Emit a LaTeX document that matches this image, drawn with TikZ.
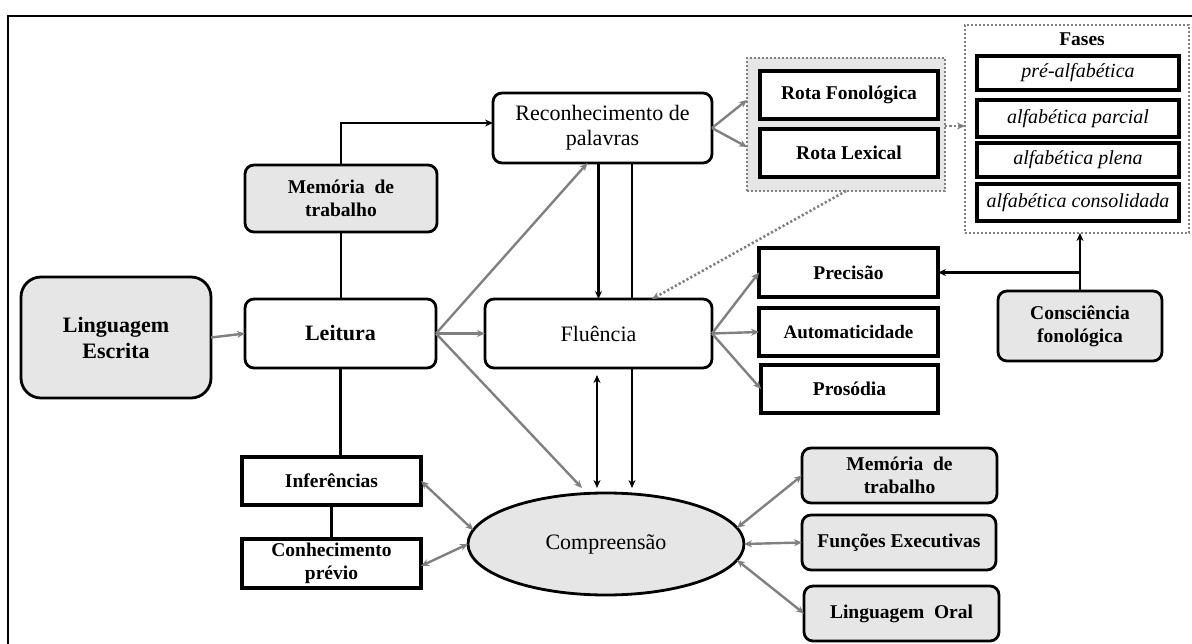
\documentclass[tikz,border=0pt]{standalone}
\usepackage{fontspec}
\setmainfont{Liberation Serif}
\usetikzlibrary{arrows.meta,shapes.geometric,calc}
\definecolor{boxgray}{HTML}{E6E6E6}
\definecolor{linegray}{HTML}{808080}
\begin{document}
\begin{tikzpicture}[x=1pt,y=-1pt,
  every node/.style={inner sep=0pt, outer sep=0pt, align=center},
  rbox/.style={draw, rounded corners=9pt, line width=2.8pt, fill=white},
  gbox/.style={rbox, fill=boxgray},
  sbox/.style={draw, line width=3.2pt, fill=white},
  bt/.style={font=\fontsize{19.5}{23}\selectfont\bfseries},
  bigbt/.style={font=\fontsize{22}{26}\selectfont\bfseries},
  rt/.style={font=\fontsize{22}{25}\selectfont},
  itx/.style={font=\fontsize{20}{24}\selectfont\itshape},
  tip/.tip={Stealth[length=8pt,width=7pt]},
  garr/.style={draw=linegray, line width=2.4pt, -tip},
  gdarr/.style={draw=linegray, line width=2.4pt, tip-tip},
  barr/.style={draw=black, line width=2.4pt, -tip},
  bdarr/.style={draw=black, line width=2.4pt, tip-tip},
  bline/.style={draw=black, line width=2.4pt},
  dotarr/.style={draw=linegray, line width=2.6pt, dash pattern=on 2.2pt off 2.2pt, -tip},
  grp/.style={draw=linegray, line width=2.8pt, dash pattern=on 2.2pt off 1.8pt},
]
\path[use as bounding box, clip] (0,0) rectangle (1192,644);
\draw[line width=2.4pt] (8,16) rectangle (1210,670);

% groups
\node[grp, fill=boxgray, minimum width=198pt, minimum height=133pt] (rotagrp) at (846,124.5) {};
\node[grp, fill=white, minimum width=224pt, minimum height=208pt] (fasesgrp) at (1077,129) {};

% nodes
\node[gbox, bigbt, rounded corners=20pt, minimum width=190pt, minimum height=121pt] (lingesc) at (116,337.5) {Linguagem\\Escrita};
\node[rbox, bigbt, minimum width=191pt, minimum height=69pt] (leitura) at (340.5,333.5) {Leitura};
\node[gbox, bt, minimum width=192pt, minimum height=67pt] (mem1) at (341,198.5) {Memória\ \ de\\trabalho};
\node[rbox, rt, minimum width=219pt, minimum height=70pt] (recon) at (602.5,128) {Reconhecimento de\\palavras};
\node[rbox, rt, minimum width=227pt, minimum height=69pt] (flu) at (598.5,333.5) {Fluência};
\node[sbox, bt, minimum width=178pt, minimum height=48pt] (rotaf) at (849,95) {Rota Fonológica};
\node[sbox, bt, minimum width=178pt, minimum height=48pt] (rotal) at (849,153) {Rota Lexical};

\node[bt] (fasest) at (1082,39) {Fases};
\node[sbox, itx, minimum width=202pt, minimum height=34pt] (f1) at (1078,73) {pré-alfabética};
\node[sbox, itx, minimum width=202pt, minimum height=37pt] (f2) at (1078,118.5) {alfabética parcial};
\node[sbox, itx, minimum width=202pt, minimum height=34pt] (f3) at (1078,160) {alfabética plena};
\node[sbox, itx, minimum width=202pt, minimum height=37pt] (f4) at (1078,202.5) {alfabética consolidada};

\node[gbox, bt, minimum width=164pt, minimum height=70pt] (consc) at (1080,326) {Consciência\\fonológica};
\node[sbox, bt, minimum width=179pt, minimum height=49pt] (prec) at (848.5,272.5) {Precisão};
\node[sbox, bt, minimum width=179pt, minimum height=48pt] (auto) at (848.5,332) {\fontsize{19}{22}\selectfont Automaticidade};
\node[sbox, bt, minimum width=177pt, minimum height=48pt] (pros) at (849.5,389) {Prosódia};

\node[sbox, bt, minimum width=179pt, minimum height=48pt] (inf) at (331.5,481) {Inferências};
\node[sbox, bt, minimum width=179pt, minimum height=49pt] (conh) at (331.5,563.5) {Conhecimento\\prévio};

\node[ellipse, draw, line width=2.8pt, fill=boxgray, rt, minimum width=276pt, minimum height=102pt] (comp) at (606,544) {Compreensão};

\node[gbox, bt, minimum width=195pt, minimum height=55pt] (mem2) at (899.5,475.5) {Memória\ \ de\\trabalho};
\node[gbox, bt, minimum width=194pt, minimum height=55pt] (func) at (899,542.5) {Funções Executivas};
\node[gbox, bt, minimum width=195pt, minimum height=55pt] (lingoral) at (901.5,613.5) {Linguagem\ \ Oral};

% connectors
\draw[garr] (lingesc.east) -- (leitura.west);
\draw[bline] (leitura.north) -- (mem1.north |- leitura.north) -- (mem1.south);
\draw[barr] (mem1.north) -- ++(0,-42) -- ([yshift=5pt]recon.west);
\draw[garr] (leitura.east) -- ([xshift=-15pt]recon.south);
\draw[garr] (leitura.east) -- (flu.west);
\draw[garr] (leitura.east) -- ([xshift=-24pt,yshift=5pt]comp.north);
\draw[bline] (leitura.south) -- (leitura.south |- inf.north);
\draw[bline] (inf.south) -- (conh.north);

\draw[barr] (flu.north |- recon.south) -- (flu.north);
\draw[bline] ([xshift=29.5pt]recon.south) -- ([xshift=29.5pt]recon.south |- flu.north);
\draw[barr] ([xshift=33.5pt]flu.south) -- ++(0,120);
\draw[bdarr] ([xshift=-1.5pt,yshift=-7pt]flu.south) -- ++(0,113);

\draw[garr] (recon.east) -- ([yshift=24.5pt]rotagrp.west);
\draw[garr] (recon.east) -- ([yshift=-22.5pt]rotagrp.west);
\draw[dotarr] ([yshift=-1.5pt]rotagrp.east) -- ([yshift=-1.5pt]rotagrp.east -| fasesgrp.west);
\draw[dotarr] (rotagrp.south) -- ([xshift=53.5pt]flu.north);

\draw[barr] (consc.north) -- (consc.north |- fasesgrp.south);
\draw[barr] (consc.north |- prec.east) -- (prec.east);

\draw[garr] (flu.east) -- (prec.west);
\draw[garr] (flu.east) -- (auto.west);
\draw[garr] (flu.east) -- (pros.west);

\draw[gdarr] (inf.east) -- (comp.174);
\draw[gdarr] ([yshift=-2.5pt]conh.east) -- (comp.west);
\draw[gdarr] (comp.7) -- (mem2.west);
\draw[gdarr] (comp.east) -- (func.west);
\draw[gdarr] (comp.353) -- (lingoral.west);
\end{tikzpicture}
\end{document}
